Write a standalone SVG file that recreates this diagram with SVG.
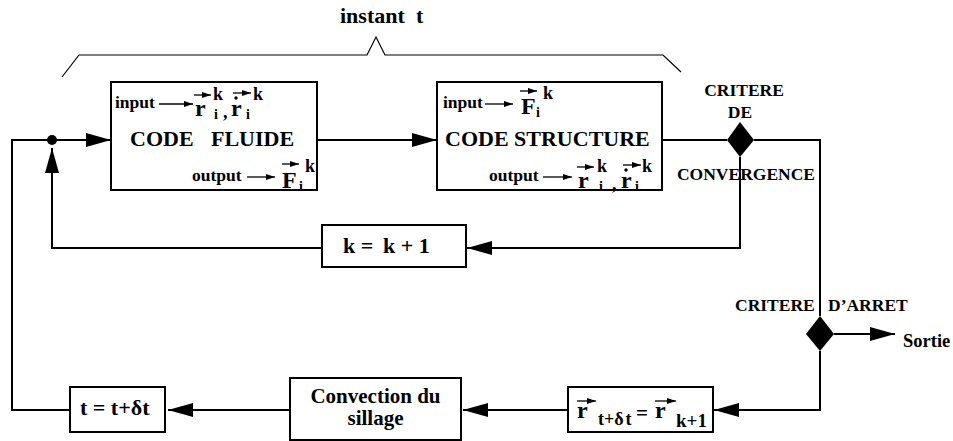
<svg xmlns="http://www.w3.org/2000/svg" width="953" height="441" viewBox="0 0 953 441">
<style>
.t{font-family:"Liberation Serif","Times New Roman",serif;font-weight:bold;fill:#000}
.box{fill:#fff;stroke:#000;stroke-width:2}
.ln{fill:none;stroke:#000;stroke-width:2}
.thin{fill:none;stroke:#000;stroke-width:1.2}
.va{fill:none;stroke:#000;stroke-width:1.3}
</style>
<defs>
<marker id="ah" markerUnits="userSpaceOnUse" markerWidth="26" markerHeight="14" refX="25" refY="7" orient="auto">
<path d="M0,0 L25,7 L0,14 z" fill="#000"/>
</marker>
<marker id="sa" markerUnits="userSpaceOnUse" markerWidth="9" markerHeight="6" refX="9" refY="3" orient="auto">
<path d="M0,0 L9,3 L0,6 z" fill="#000"/>
</marker>
</defs>

<g id="bracket">
<path class="thin" d="M62,77 L79,55 L367,55 L376,37 L385,55 L663,55 L681,72"/>
<text class="t" x="340" y="23" font-size="22">instant</text>
<text class="t" x="416" y="23" font-size="22">t</text>
</g>

<g id="connectors">
<path class="ln" d="M70,410 L12,410 L12,140 L52,140"/>
<path class="ln" d="M52,140 L111,140" marker-end="url(#ah)"/>
<path class="ln" d="M317,140 L437,140" marker-end="url(#ah)"/>
<path class="ln" d="M662,140 L727,140"/>
<path class="ln" d="M754,140 L820,140 L820,316"/>
<path class="ln" d="M740,157 L740,248 L467,248" marker-end="url(#ah)"/>
<path class="ln" d="M322,248 L52,248 L52,148" marker-end="url(#ah)"/>
<path class="ln" d="M834,334 L895,334" marker-end="url(#ah)"/>
<path class="ln" d="M820,351 L820,410 L714,410" marker-end="url(#ah)"/>
<path class="ln" d="M568,410 L463,410" marker-end="url(#ah)"/>
<path class="ln" d="M290,410 L168,410" marker-end="url(#ah)"/>
<circle cx="52" cy="140" r="5" fill="#000"/>
</g>

<g id="code-fluide">
<rect class="box" x="111" y="82" width="206" height="108"/>
<text class="t" x="115" y="108" font-size="17.5">input</text>
<line class="va" x1="159" y1="104" x2="193" y2="104" marker-end="url(#sa)"/>
<text class="t" x="195" y="116" font-size="24">r</text>
<line class="va" x1="194" y1="95" x2="211" y2="95" marker-end="url(#sa)"/>
<text class="t" x="213" y="100" font-size="18">k</text>
<text class="t" x="214" y="119" font-size="14">i</text>
<text class="t" x="223" y="118" font-size="18">,</text>
<text class="t" x="231" y="116" font-size="24">r</text>
<circle cx="236" cy="98" r="1.7" fill="#000"/>
<line class="va" x1="233" y1="93" x2="251" y2="93" marker-end="url(#sa)"/>
<text class="t" x="253" y="100" font-size="18">k</text>
<text class="t" x="246" y="119" font-size="14">i</text>
<text class="t" x="130" y="146" font-size="22">CODE</text>
<text class="t" x="211" y="146" font-size="22">FLUIDE</text>
<text class="t" x="192" y="181" font-size="17.5">output</text>
<line class="va" x1="247" y1="177" x2="275" y2="177" marker-end="url(#sa)"/>
<text class="t" x="282" y="188" font-size="24">F</text>
<line class="va" x1="282" y1="164" x2="299" y2="164" marker-end="url(#sa)"/>
<text class="t" x="305" y="172" font-size="18">k</text>
<text class="t" x="299" y="191" font-size="14">i</text>
</g>

<g id="code-structure">
<rect class="box" x="437" y="82" width="225" height="108"/>
<text class="t" x="443" y="108" font-size="17.5">input</text>
<line class="va" x1="485" y1="104" x2="513" y2="104" marker-end="url(#sa)"/>
<text class="t" x="521" y="114" font-size="24">F</text>
<line class="va" x1="520" y1="91" x2="537" y2="91" marker-end="url(#sa)"/>
<text class="t" x="543" y="99" font-size="18">k</text>
<text class="t" x="536" y="117" font-size="14">i</text>
<text class="t" x="445" y="146" font-size="22">CODE STRUCTURE</text>
<text class="t" x="489" y="181" font-size="17.5">output</text>
<line class="va" x1="543" y1="177" x2="572" y2="177" marker-end="url(#sa)"/>
<text class="t" x="578" y="188" font-size="24">r</text>
<line class="va" x1="577" y1="167" x2="594" y2="167" marker-end="url(#sa)"/>
<text class="t" x="597" y="172" font-size="18">k</text>
<text class="t" x="599" y="191" font-size="14">i</text>
<text class="t" x="612" y="190" font-size="18">,</text>
<text class="t" x="621" y="188" font-size="24">r</text>
<circle cx="626" cy="170" r="1.7" fill="#000"/>
<line class="va" x1="623" y1="165" x2="641" y2="165" marker-end="url(#sa)"/>
<text class="t" x="642" y="172" font-size="18">k</text>
<text class="t" x="635" y="191" font-size="14">i</text>
</g>

<g id="critere-convergence">
<path d="M740,122 L754,140 L740,157 L727,140 z" fill="#000"/>
<text class="t" x="744" y="96" font-size="17.5" text-anchor="middle">CRITERE</text>
<text class="t" x="740" y="118" font-size="17.5" text-anchor="middle">DE</text>
<text class="t" x="746" y="180" font-size="17.5" text-anchor="middle">CONVERGENCE</text>
</g>

<g id="k-increment">
<rect class="box" x="322" y="225" width="144" height="42"/>
<text class="t" x="343" y="253" font-size="22">k =</text>
<text class="t" x="383" y="253" font-size="22">k + 1</text>
</g>

<g id="critere-arret">
<path d="M820,316 L834,334 L820,351 L806,334 z" fill="#000"/>
<text class="t" x="735" y="311" font-size="17.5">CRITERE</text>
<text class="t" x="828" y="311" font-size="17.5">D’ARRET</text>
</g>

<g id="sortie">
<text class="t" x="903" y="347" font-size="18.5">Sortie</text>
</g>

<g id="r-update">
<rect class="box" x="568" y="387" width="145" height="45"/>
<text class="t" x="577" y="418" font-size="24">r</text>
<line class="va" x1="577" y1="401" x2="596" y2="401" marker-end="url(#sa)"/>
<text class="t" x="598" y="425" font-size="18">t+δ<tspan dx="2">t</tspan></text>
<text class="t" x="636" y="420" font-size="21">=</text>
<text class="t" x="655" y="418" font-size="24">r</text>
<line class="va" x1="655" y1="401" x2="676" y2="401" marker-end="url(#sa)"/>
<text class="t" x="676" y="427" font-size="19">k+1</text>
</g>

<g id="convection">
<rect class="box" x="290" y="378" width="171" height="62"/>
<text class="t" x="375.5" y="403" font-size="21" text-anchor="middle">Convection du</text>
<text class="t" x="375.5" y="425" font-size="21" text-anchor="middle">sillage</text>
</g>

<g id="t-increment">
<rect class="box" x="70" y="387" width="95" height="45"/>
<text class="t" x="80" y="415" font-size="22">t = t+δt</text>
</g>
</svg>
